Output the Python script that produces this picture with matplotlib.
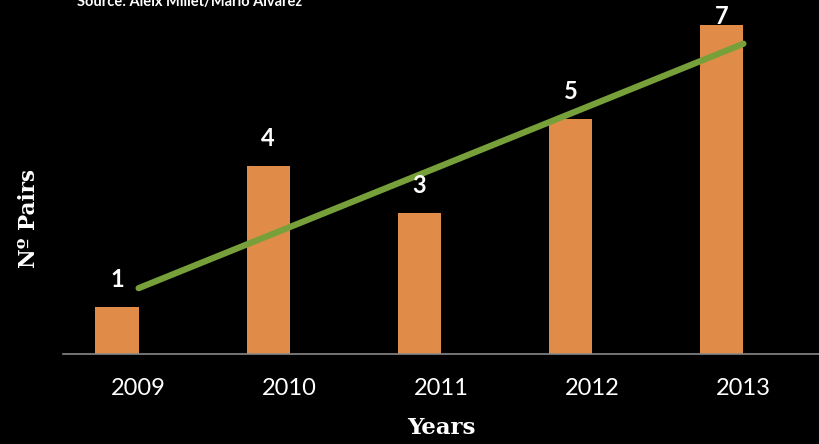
import matplotlib.pyplot as plt
import numpy as np

years = ["2009", "2010", "2011", "2012", "2013"]
pairs = [1, 4, 3, 5, 7]

bar_color = "#E08C48"
trend_color = "#77A03B"

fig = plt.figure(figsize=(8.19, 4.44), dpi=100, facecolor="black")
ax = fig.add_axes([0.0769, 0.2027, 0.9231, 0.7973])
ax.set_facecolor("black")

x = np.arange(len(years))
ax.bar(x, pairs, width=-0.285, align="edge", color=bar_color)

# linear trend line
k, b = np.polyfit(x, pairs, 1)
ax.plot(x[[0, -1]], k * x[[0, -1]] + b, color=trend_color, lw=4.5,
        solid_capstyle="round")

for xi, v in zip(x, pairs):
    ax.text(xi - 0.1425, min(v + 0.42, 7.03), str(v), ha="center",
            va="baseline", color="white", fontsize=17, fontweight="bold",
            family="Lato")

ax.set_xlim(-0.5, 4.5)
ax.set_ylim(0, 7.53)
ax.set_xticks(x)
ax.set_xticklabels(years, color="white", fontsize=17, family="Lato")
ax.tick_params(axis="x", length=0, pad=17)
ax.set_yticks([])
for s in ["top", "right", "left"]:
    ax.spines[s].set_visible(False)
ax.spines["bottom"].set_color("#888888")
ax.spines["bottom"].set_linewidth(1.2)

fig.text(0.5385, 0.036, "Years", ha="center", va="center", color="white",
         fontsize=16.5, fontweight="bold", family="DejaVu Serif")
fig.text(0.035, 0.508, "Nº Pairs", ha="center", va="center", rotation=90,
         color="white", fontsize=15.5, fontweight="bold", family="DejaVu Serif")
fig.text(0.094, 0.996, "Source: Aleix Millet/Mario Alvarez", ha="left",
         va="center", color="white", fontsize=10.5, fontweight="bold",
         family="Lato")

fig.savefig("out.png", dpi=100, facecolor="black")
